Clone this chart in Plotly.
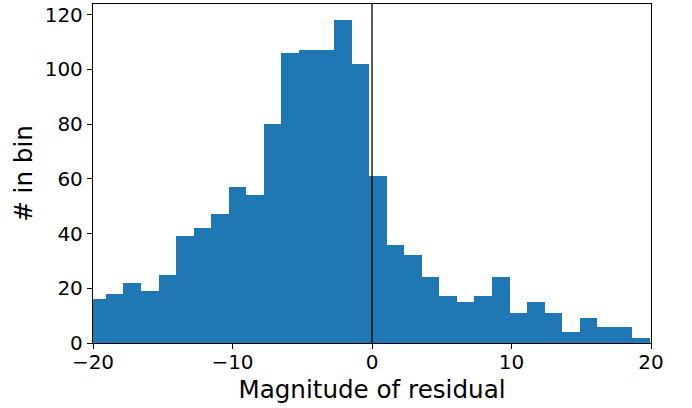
import plotly.graph_objects as go

# Histogram data
counts = [16, 18, 22, 19, 25, 39, 42, 47, 57, 54, 80, 106, 107, 107, 118, 102,
          61, 36, 32, 24, 17, 15, 17, 24, 11, 15, 11, 4, 9, 6, 6, 2]
bin_start = -20.33
bin_width = 1.258
x_ticks = [-20, -10, 0, 10, 20]
y_ticks = [0, 20, 40, 60, 80, 100, 120]
ref_x = 0

centers = [bin_start + (i + 0.5) * bin_width for i in range(len(counts))]

fig = go.Figure()
fig.add_trace(go.Bar(
    x=centers, y=counts, width=[bin_width] * len(counts),
    marker=dict(color="#1f77b4", line=dict(width=0)),
    hoverinfo="skip",
))
fig.add_shape(type="line", x0=ref_x, x1=ref_x, y0=0, y1=1, xref="x", yref="paper",
              line=dict(color="black", width=1.3))

tick_font = dict(family="DejaVu Sans", size=20, color="black")
title_font = dict(family="DejaVu Sans", size=24.6, color="black")
fig.update_layout(
    width=692, height=408,
    margin=dict(l=93, r=41, t=4, b=65, autoexpand=False),
    plot_bgcolor="white", paper_bgcolor="white",
    showlegend=False, bargap=0,
    font=tick_font,
)
fig.update_xaxes(
    range=[-20, 20], tickvals=x_ticks,
    ticktext=[str(t).replace("-", "\u2212") for t in x_ticks],
    showline=True, linecolor="black", linewidth=1.3, mirror=True,
    ticks="outside", ticklen=5, tickwidth=1.3, tickcolor="black",
    showgrid=False, zeroline=False, tickfont=tick_font, ticklabelstandoff=-4,
    title=dict(text="Magnitude of residual", font=title_font, standoff=7),
)
fig.update_yaxes(
    range=[0, 123.9], tickvals=y_ticks,
    showline=True, linecolor="black", linewidth=1.3, mirror=True,
    ticks="outside", ticklen=5, tickwidth=1.3, tickcolor="black",
    showgrid=False, zeroline=False, tickfont=tick_font,
    title=dict(text="# in bin", font=title_font, standoff=5),
)
fig.write_html("out.html", config={"displayModeBar": False},
               post_script="document.body.style.margin='0';document.body.style.padding='0';")
